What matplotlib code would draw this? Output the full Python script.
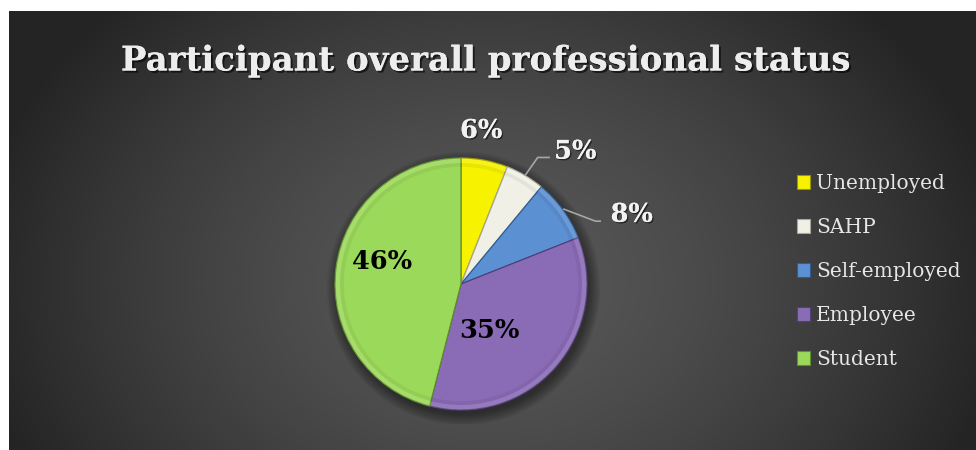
import numpy as np
import matplotlib
matplotlib.use("Agg")
import matplotlib.pyplot as plt
from matplotlib.patches import Patch, Circle, Wedge
import matplotlib.patheffects as pe

# Survey breakdown
categories = ["Unemployed", "SAHP", "Self-employed", "Employee", "Student"]
shares = [6, 5, 8, 35, 46]
slice_colors = ["#F7F200", "#F1F0E6", "#5B90D2", "#8A6BB6", "#9BD95A"]
edge_colors = ["#9A9600", "#A8A69A", "#2F5C93", "#54407A", "#5F8F2C"]
title = "Participant overall professional status"

W, H, DPI = 976, 450, 100
fig = plt.figure(figsize=(W / DPI, H / DPI), dpi=DPI, facecolor="white")

# Dark chart area with a soft radial gradient
bg = fig.add_axes([9 / W, 0, (W - 9) / W, (H - 11) / H])
bg.set_axis_off()
ny, nx = 439, 967
yy, xx = np.mgrid[0:ny, 0:nx]
cx, cy = 480, 270
t = np.sqrt(((xx - cx) / 520.0) ** 2 + ((yy - cy) / 400.0) ** 2)
t = np.clip(t, 0, 1) ** 1.5
c0, c1 = 88 / 255, 36 / 255
grey = c0 + (c1 - c0) * t
bg.imshow(np.dstack([grey, grey, grey]), aspect="auto", extent=[0, nx, ny, 0])
bg.set_xlim(0, nx)
bg.set_ylim(ny, 0)

# Title
fig.text(485 / W, (H - 61) / H, title, ha="center", va="center",
         family="DejaVu Serif", fontweight="bold", fontsize=24.5,
         color="#EDEDED",
         path_effects=[pe.withSimplePatchShadow(offset=(1.5, -1.5), shadow_rgbFace="black", alpha=0.6),
                       pe.Normal()])

# Pie axes: radius of 126 px centred at (461, 284) from the top-left
R, PCX, PCY = 126, 461, 284
half = 140
ax = fig.add_axes([(PCX - half) / W, (H - PCY - half) / H, 2 * half / W, 2 * half / H])

# Drop shadow under the pie
for k in range(8):
    ax.add_patch(Circle((0.02, -0.035), 1.0 + 0.012 * k, color="black",
                        alpha=0.06, zorder=0, lw=0))

wedges, _ = ax.pie(shares, colors=slice_colors, startangle=90, counterclock=False,
                   radius=1.0, wedgeprops=dict(linewidth=0.9))
ax.set_xlim(-half / R, half / R)
ax.set_ylim(-half / R, half / R)
ax.set_aspect("equal")
ax.set_axis_off()
for w, ec in zip(wedges, edge_colors):
    w.set_edgecolor(ec)
    w.set_zorder(2)

# Soft bevel: lighter rim and darker inner rim on each slice
for w in wedges:
    th1, th2 = w.theta1, w.theta2
    ax.add_patch(Wedge((0, 0), 1.0, th1, th2, width=0.04,
                       facecolor="white", alpha=0.10, lw=0, zorder=3))
    ax.add_patch(Wedge((0, 0), 0.96, th1, th2, width=0.03,
                       facecolor="black", alpha=0.05, lw=0, zorder=3))

# Data labels
label_r = [1.23, None, None, 0.43, 0.65]
label_dth = [3.3, 0, 0, -17.3, -8.4]
label_colors = ["#F2F2F2", "#F2F2F2", "#F2F2F2", "black", "black"]
outside_shadow = [pe.withSimplePatchShadow(offset=(1, -1), shadow_rgbFace="black", alpha=0.5),
                  pe.Normal()]
lfont = dict(family="DejaVu Serif", fontweight="bold", fontsize=18.5)

for i, (w, v) in enumerate(zip(wedges, shares)):
    mid = np.deg2rad((w.theta1 + w.theta2) / 2)
    txt = f"{v}%"
    if label_r[i] is not None:
        a = mid + np.deg2rad(label_dth[i])
        x, y = label_r[i] * np.cos(a), label_r[i] * np.sin(a)
        kw = dict(path_effects=outside_shadow) if label_colors[i] != "black" else {}
        ax.text(x, y, txt, ha="center", va="center", color=label_colors[i], zorder=5, **lfont, **kw)

# Leader-line labels for the two narrow slices
leaders = {1: (0.09, 0.04), 2: (0.10, 0.02)}
for i, (hlen, gap) in leaders.items():
    w = wedges[i]
    mid = np.deg2rad((w.theta1 + w.theta2) / 2)
    x0, y0 = 1.01 * np.cos(mid), 1.01 * np.sin(mid)
    if i == 1:
        x1, y1 = x0 + 0.095, y0 + 0.135
    else:
        x1, y1 = x0 + 0.25, y0 - 0.095
    x2 = x1 + hlen
    ax.plot([x0, x1, x2], [y0, y1, y1], color="#A6A6A6", lw=1.2, zorder=4,
            solid_joinstyle="miter")
    ax.text(x2 + gap, y1 + (0.05 if i == 1 else 0.055), f"{shares[i]}%", ha="left", va="center",
            color="#F2F2F2", zorder=5, path_effects=outside_shadow, **lfont)

# Legend
handles = [Patch(facecolor=c, edgecolor=e, linewidth=0.8) for c, e in zip(slice_colors, edge_colors)]
leg = fig.legend(handles, categories, loc="upper left",
                 bbox_to_anchor=(797 / W, (H - 174) / H), frameon=False,
                 prop=dict(family="DejaVu Serif", size=14.5), labelcolor="#E6E6E6",
                 handlelength=0.65, handleheight=0.65, handletextpad=0.3,
                 labelspacing=1.24, borderpad=0, borderaxespad=0)

fig.savefig("out.png", dpi=DPI, facecolor="white")
